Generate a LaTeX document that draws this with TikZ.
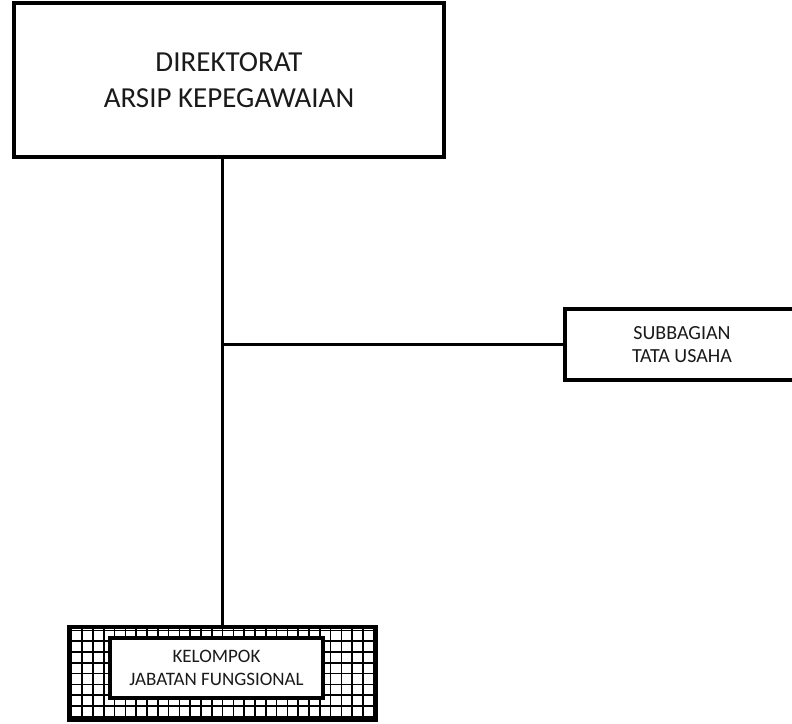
\documentclass[tikz,border=0pt]{standalone}
\usepackage{fontspec}
\setmainfont{Carlito}
\definecolor{txt}{HTML}{1A1A1A}
\begin{document}
\begin{tikzpicture}[x=1pt,y=1pt,
  box/.style={draw=black, rectangle, inner sep=0pt, align=center, text=txt, fill=white},
  conn/.style={draw=black, line width=3pt}]
\useasboundingbox (0,0) rectangle (792,723);
\clip (0,0) rectangle (792,723);
\node[box, line width=3.5pt, minimum width=430, minimum height=154,
  font=\fontsize{29}{36}\selectfont] (dir) at (229,643) {DIREKTORAT\\ARSIP KEPEGAWAIAN};
\node[box, line width=3.2pt, minimum width=234, minimum height=71,
  font=\fontsize{20}{23}\selectfont] (sub) at (682,378.5) {SUBBAGIAN\\TATA USAHA};
\node[box, line width=3.2pt, minimum width=307, minimum height=93,
  path picture={\draw[line width=1.6pt, step=10.8] (path picture bounding box.south west) grid (path picture bounding box.north east);}]
  (outer) at (222.5,49.5) {};
\node[box, line width=4pt, minimum width=213, minimum height=60,
  font=\fontsize{19}{23}\selectfont] (inner) at (216.5,55) {KELOMPOK\\JABATAN FUNGSIONAL};
\draw[conn] (dir.south -| outer.north) -- (outer.north);
\draw[conn] (sub.west -| outer.north) -- (sub.west);
\end{tikzpicture}
\end{document}
